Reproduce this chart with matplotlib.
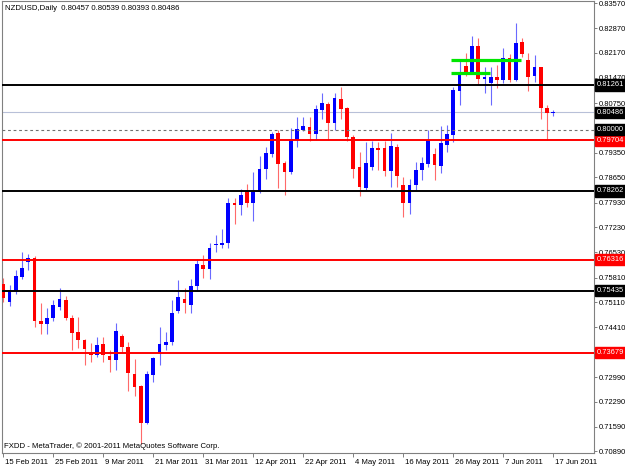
import matplotlib
matplotlib.use("Agg")
import matplotlib.pyplot as plt
import matplotlib.transforms as mtransforms
import numpy as np

# ---------------- data ----------------
OPEN = [0.75620, 0.75128, 0.75431, 0.75818, 0.76260, 0.76356, 0.74582, 0.74488, 0.74675, 0.74986,
        0.75176, 0.74658, 0.74262, 0.74036, 0.73648, 0.73620, 0.73922, 0.73600, 0.73478, 0.74157,
        0.73854, 0.73073, 0.72751, 0.71687, 0.73054, 0.73668, 0.73903, 0.73996, 0.74873, 0.75204,
        0.75035, 0.75572, 0.76167, 0.76053, 0.76733, 0.76733, 0.76798, 0.77913, 0.77865, 0.78241,
        0.77913, 0.78241, 0.78875, 0.79308, 0.79911, 0.79062, 0.78807, 0.79704, 0.79987, 0.80080,
        0.79874, 0.80553, 0.80723, 0.80177, 0.80856, 0.80601, 0.79797, 0.78931, 0.78337, 0.78931,
        0.79469, 0.79469, 0.78835, 0.79497, 0.78431, 0.77930, 0.78431, 0.78855, 0.79025, 0.79308,
        0.78968, 0.79563, 0.79846, 0.81099, 0.81798, 0.81609, 0.82364, 0.81422, 0.81309, 0.81478,
        0.81402, 0.82016, 0.81402, 0.82486, 0.81968, 0.81515, 0.81761, 0.80601, 0.80457]
HIGH = [0.75807, 0.75601, 0.76025, 0.76526, 0.76478, 0.76421, 0.75083, 0.74958, 0.75176, 0.75524,
        0.75298, 0.74752, 0.74703, 0.74072, 0.73951, 0.74137, 0.74137, 0.73761, 0.74517, 0.74205,
        0.73996, 0.73506, 0.72771, 0.73167, 0.73571, 0.74420, 0.74279, 0.75176, 0.75742, 0.75507,
        0.75762, 0.76328, 0.76450, 0.76781, 0.77016, 0.77177, 0.78054, 0.78054, 0.78309, 0.78459,
        0.78807, 0.79251, 0.79514, 0.79939, 0.79987, 0.79110, 0.80035, 0.80346, 0.80346, 0.80363,
        0.80695, 0.81026, 0.80788, 0.81043, 0.81195, 0.80646, 0.79846, 0.79373, 0.79656, 0.79684,
        0.79656, 0.79684, 0.79894, 0.79591, 0.78648, 0.78592, 0.79090, 0.79231, 0.79987, 0.79469,
        0.80100, 0.80129, 0.81212, 0.81968, 0.82175, 0.82647, 0.82582, 0.81778, 0.81778, 0.81827,
        0.82299, 0.82138, 0.83007, 0.82582, 0.82175, 0.82110, 0.81778, 0.80695, 0.80539]
LOW = [0.75128, 0.75006, 0.75337, 0.75762, 0.76025, 0.74420, 0.74205, 0.74222, 0.74582, 0.74893,
       0.74610, 0.73761, 0.73809, 0.73337, 0.73413, 0.73571, 0.73430, 0.73147, 0.73195, 0.73696,
       0.72601, 0.72459, 0.71092, 0.71653, 0.72864, 0.73337, 0.73761, 0.73903, 0.74800, 0.74817,
       0.74817, 0.75439, 0.75790, 0.75762, 0.76543, 0.76639, 0.76639, 0.77327, 0.77582, 0.77799,
       0.77420, 0.78196, 0.78592, 0.79214, 0.78337, 0.78148, 0.78742, 0.79514, 0.79959, 0.79684,
       0.79704, 0.80290, 0.79704, 0.79987, 0.80290, 0.79684, 0.78620, 0.78119, 0.78289, 0.78855,
       0.78855, 0.78685, 0.78365, 0.78365, 0.77516, 0.77610, 0.78289, 0.78572, 0.78931, 0.78572,
       0.78779, 0.79373, 0.79656, 0.80695, 0.81515, 0.81572, 0.81261, 0.81043, 0.80695, 0.81167,
       0.81309, 0.81354, 0.81382, 0.82061, 0.81099, 0.81354, 0.80290, 0.79704, 0.80393]
CLOSE = [0.75241, 0.75411, 0.75864, 0.76073, 0.76356, 0.74582, 0.74488, 0.74675, 0.75035, 0.75196,
         0.74658, 0.74251, 0.74044, 0.73781, 0.73620, 0.73903, 0.73620, 0.73478, 0.74299, 0.73854,
         0.73102, 0.72722, 0.71687, 0.73073, 0.73526, 0.73931, 0.73996, 0.74817, 0.75252, 0.75083,
         0.75572, 0.76195, 0.76053, 0.76639, 0.76761, 0.76781, 0.77913, 0.77865, 0.78148, 0.77930,
         0.78241, 0.78875, 0.79345, 0.79865, 0.79025, 0.78807, 0.79724, 0.80007, 0.80100, 0.79874,
         0.80573, 0.80743, 0.80177, 0.80884, 0.80573, 0.79797, 0.78875, 0.78365, 0.79045, 0.79469,
         0.79421, 0.78835, 0.79534, 0.78685, 0.77913, 0.78431, 0.78855, 0.79045, 0.79704, 0.78997,
         0.79611, 0.79874, 0.81119, 0.81592, 0.81592, 0.82364, 0.81422, 0.81495, 0.81478, 0.81402,
         0.82016, 0.81402, 0.82458, 0.82138, 0.81495, 0.81761, 0.80601, 0.80460, 0.80486]

DATE_LABELS = ["15 Feb 2011", "25 Feb 2011", "9 Mar 2011", "21 Mar 2011", "31 Mar 2011",
               "12 Apr 2011", "22 Apr 2011", "4 May 2011", "16 May 2011", "26 May 2011",
               "7 Jun 2011", "17 Jun 2011"]
LABEL_EVERY = 8

PRICE_TICKS = [0.83570, 0.82870, 0.82170, 0.81470, 0.80750, 0.79350, 0.78650, 0.77930,
               0.77230, 0.76530, 0.75810, 0.75110, 0.74410, 0.72990, 0.72290, 0.71590, 0.70890]

BLACK_LEVELS = [0.81261, 0.78262, 0.75435]
RED_LEVELS = [0.79704, 0.76316, 0.73679]
CURRENT_PRICE = 0.80486
ROUND_LEVEL = 0.80000

GREEN_PRICES = [0.81968, 0.81592]
GREEN_START = [71.6, 71.6]
GREEN_END = [82.9, 77.9]

SYMBOL = "NZDUSD,Daily"

# ---------------- figure ----------------
plt.rcParams["font.family"] = ["Liberation Sans", "DejaVu Sans"]
W, H = 625, 469
fig = plt.figure(figsize=(W / 100, H / 100), dpi=100)
fig.patch.set_facecolor("white")
ax = fig.add_axes([2 / W, 16 / H, 592 / W, 452 / H])
ax.set_facecolor("white")

o = np.array(OPEN); h = np.array(HIGH); l = np.array(LOW); c = np.array(CLOSE)
x = np.arange(len(o))
up = c >= o
UPC, DNC = "#0000FF", "#FF0000"
UPW, DNW = "#6A6AFF", "#FF6A6A"

ax.vlines(x[up], l[up], h[up], color=UPW, lw=0.8, zorder=2)
ax.vlines(x[~up], l[~up], h[~up], color=DNW, lw=0.8, zorder=2)
body_bot = np.minimum(o, c)
body_h = np.maximum(np.abs(c - o), 0.00030)
ax.bar(x[up], body_h[up], bottom=body_bot[up], width=0.62, color=UPC, linewidth=0, zorder=3)
ax.bar(x[~up], body_h[~up], bottom=body_bot[~up], width=0.62, color=DNC, linewidth=0, zorder=3)

# horizontal levels
for lv in BLACK_LEVELS:
    ax.axhline(lv, color="#000000", lw=1.4, zorder=4)
for lv in RED_LEVELS:
    ax.axhline(lv, color="#FF0000", lw=1.4, zorder=4)
ax.axhline(CURRENT_PRICE, color="#B8C0D8", lw=0.8, zorder=1)
ax.axhline(ROUND_LEVEL, color="#707070", lw=0.8, ls=(0, (2.5, 2.5)), zorder=4)

for p, s, e in zip(GREEN_PRICES, GREEN_START, GREEN_END):
    ax.hlines(p, s, e, color="#00E600", lw=2.3, zorder=5)

ax.set_xlim(-0.208, 94.51)
ax.set_ylim(0.708461, 0.836377)

for sp in ax.spines.values():
    sp.set_color("#808080")
    sp.set_linewidth(0.8)

FS = 5.6
YFS = 5.4
# right price axis
ax.yaxis.tick_right()
ax.set_yticks(PRICE_TICKS)
ax.set_yticklabels([f"{v:.5f}" for v in PRICE_TICKS], fontsize=YFS, color="#000000")
ax.tick_params(axis="y", direction="out", length=2.5, width=0.7, pad=0.8, colors="#808080",
               labelcolor="#000000")

# date axis
xt = np.arange(0, len(o), LABEL_EVERY)
ax.set_xticks(xt)
ax.set_xticklabels(DATE_LABELS[:len(xt)], fontsize=FS, color="#000000")
ax.tick_params(axis="x", direction="out", length=3, width=0.7, pad=1, colors="#808080",
               labelcolor="#000000")
offset = mtransforms.ScaledTranslation(1.5 / 100, 0, fig.dpi_scale_trans)
for lab in ax.get_xticklabels():
    lab.set_horizontalalignment("left")
    lab.set_transform(lab.get_transform() + offset)

# boxed level labels
def box_label(val, fc):
    ax.annotate(f"{val:.5f}", xy=(1, val), xycoords=("axes fraction", "data"),
                xytext=(2.0, 0), textcoords="offset points", ha="left", va="center",
                fontsize=YFS, color="white", annotation_clip=False, zorder=10,
                bbox=dict(boxstyle="square,pad=0.28", fc=fc, ec=fc))

for lv in BLACK_LEVELS:
    box_label(lv, "#000000")
for lv in RED_LEVELS:
    box_label(lv, "#FF0000")
box_label(CURRENT_PRICE, "#000000")
box_label(ROUND_LEVEL, "#000000")

# header and copyright
last = len(o) - 1
fig.text(5 / W, 1 - 9 / H,
         f"{SYMBOL}  {OPEN[last]:.5f} {HIGH[last]:.5f} {LOW[last]:.5f} {CLOSE[last]:.5f}",
         fontsize=FS, ha="left", va="center", color="#000000")
fig.text(4 / W, 1 - 446 / H, "FXDD - MetaTrader, \u00a9 2001-2011 MetaQuotes Software Corp.",
         fontsize=FS, ha="left", va="center", color="#000000")

fig.savefig("out.png", dpi=100, facecolor="white")
